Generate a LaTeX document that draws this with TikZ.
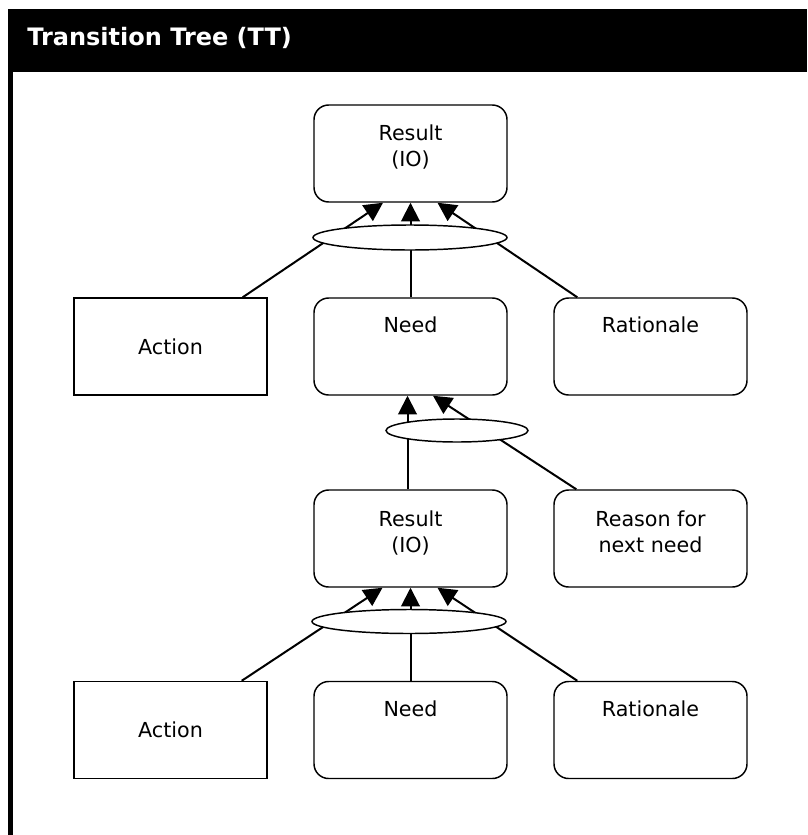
\documentclass[tikz,border=0pt]{standalone}
\usepackage{fontspec}
\setmainfont{DejaVu Sans}
\usetikzlibrary{arrows.meta,calc,shapes.geometric}
\newcommand\ttbodyfnt{\fontsize{15.5}{19.8}\selectfont}
\begin{document}
\begin{tikzpicture}[x=0.75pt,y=-0.75pt,
  box/.style={draw=black,line width=1.1pt,minimum width=144.75pt,minimum height=72.75pt,inner sep=0pt,font=\ttbodyfnt},
  rbox/.style={box,rounded corners=11pt},
  lbl/.style={inner sep=0pt,align=center,anchor=north,font=\ttbodyfnt},
  oval/.style={ellipse,draw=black,fill=white,line width=1.1pt,inner sep=0pt,minimum width=145.5pt,minimum height=18.75pt},
  conn/.style={line width=1.5pt},
  arr/.style={conn,-{Triangle[length=14pt,width=14pt]}}]
% canvas
\fill[white] (0,0) rectangle (807,835);
\useasboundingbox (0,0) rectangle (807,835);
% header and frame
\fill[black] (8,9) rectangle (807,72);
\fill[black] (8,72) rectangle (13,835);
\node[anchor=base west,text=white,inner sep=0pt,font=\bfseries\fontsize{18}{21}\selectfont] (title) at (27,45) {Transition Tree (TT)};
% boxes
\node[rbox] (res1) at (410.5,153.5) {};
\node[box] (act1) at (170.5,346.5) {Action};
\node[rbox] (need1) at (410.5,346.5) {};
\node[rbox] (rat1) at (650.5,346.5) {};
\node[rbox] (res2) at (410.5,538.5) {};
\node[rbox] (rsn) at (650.5,538.5) {};
\node[box] (act2) at (170.5,730) {Action};
\node[rbox] (need2) at (410.5,730) {};
\node[rbox] (rat2) at (650.5,730) {};
% texts at top of boxes
\node[lbl] (res1t) at ($(res1.north)+(0,20)$) {Result\\(IO)};
\node[lbl] (need1t) at ($(need1.north)+(0,19.5)$) {Need};
\node[lbl] (rat1t) at ($(rat1.north)+(0,19.5)$) {Rationale};
\node[lbl] (res2t) at ($(res2.north)+(0,21)$) {Result\\(IO)};
\node[lbl] (rsnt) at ($(rsn.north)+(0,21)$) {Reason for\\next need};
\node[lbl] (need2t) at ($(need2.north)+(0,19.5)$) {Need};
\node[lbl] (rat2t) at ($(rat2.north)+(0,19.5)$) {Rationale};
% connectors, group 1
\draw[arr] ($(act1.north east)+(-25,0)$) -- ($(res1.south)+(-27.5,0)$);
\draw[arr] (need1.north) -- (res1.south);
\draw[arr] ($(rat1.north west)+(24,0)$) -- ($(res1.south)+(27,0)$);
% connectors, group 2
\draw[arr] ($(res2.north)+(-3,0)$) -- ($(need1.south)+(-3,0)$);
\draw[arr] ($(rsn.north west)+(23,0)$) -- ($(need1.south)+(22.5,0)$);
% connectors, group 3
\draw[arr] ($(act2.north east)+(-26,0)$) -- ($(res2.south)+(-28,0)$);
\draw[arr] (need2.north) -- (res2.south);
\draw[arr] ($(rat2.north west)+(24,0)$) -- ($(res2.south)+(27,0)$);
% ellipses
\node[oval] (ell1) at (410,237.5) {};
\node[oval,minimum width=106.5pt,minimum height=17.25pt] (ell2) at (457,430.5) {};
\node[oval,minimum height=18pt] (ell3) at (409,621.5) {};
\end{tikzpicture}
\end{document}
